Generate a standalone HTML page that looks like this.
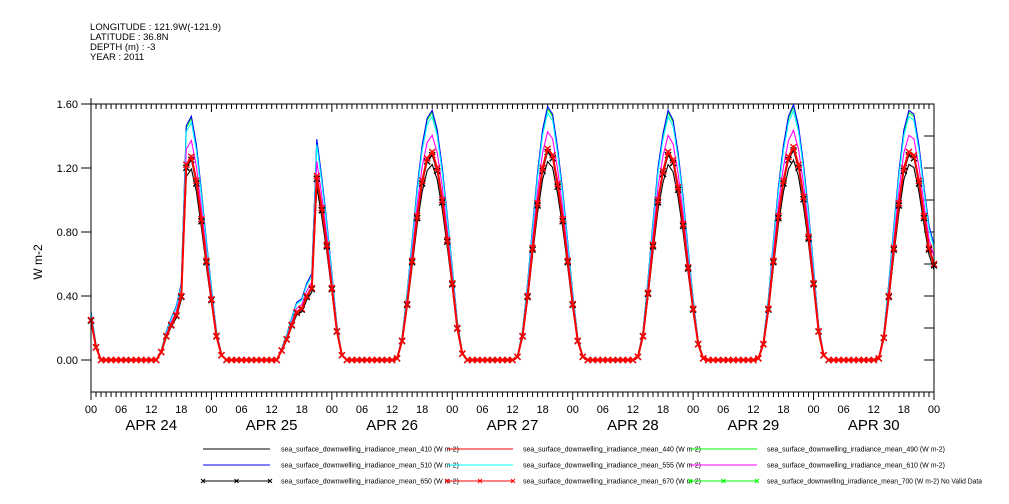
<!DOCTYPE html>
<html><head><meta charset="utf-8">
<style>
html,body{margin:0;padding:0;background:#fff;}
svg{display:block;font-family:"Liberation Sans",sans-serif;}
</style></head>
<body>
<svg id="chart" width="1009" height="504" viewBox="0 0 1009 504">
<g font-size="9.5" fill="#000">
<text x="90" y="30" textLength="131">LONGITUDE : 121.9W(-121.9)</text>
<text x="90" y="40">LATITUDE : 36.8N</text>
<text x="90" y="50">DEPTH (m) : -3</text>
<text x="90" y="60">YEAR : 2011</text>
</g>
<g id="axes"></g>
<g id="series"></g>
<rect x="91" y="104" width="843" height="288" fill="none" stroke="#000" stroke-width="1"/>
<text x="42" y="262" font-size="12" transform="rotate(-90 42 262)" text-anchor="middle">W m-2</text>
<g id="legend"></g>
</svg>
<script>
// ---- data (hourly, Apr 24 00Z ... May 1 00Z) ----
const days = ["APR 24","APR 25","APR 26","APR 27","APR 28","APR 29","APR 30"];
const yTicks = [0.00,0.40,0.80,1.20,1.60];
const yTickLabels = ["0.00","0.40","0.80","1.20","1.60"];
const hourLabels = ["00","06","12","18"];
const irr440 = [
 0.25,0.08,0,0,0,0,0,0,0,0,0,0,0,0,0.05,0.15,0.22,0.28,0.40,1.22,1.27,1.12,0.88,0.62,
 0.38,0.15,0.03,0,0,0,0,0,0,0,0,0,0,0,0.06,0.13,0.22,0.30,0.32,0.40,0.45,1.15,0.95,0.72,
 0.45,0.18,0.03,0,0,0,0,0,0,0,0,0,0,0.01,0.12,0.35,0.62,0.90,1.12,1.26,1.30,1.20,1.00,0.75,
 0.48,0.20,0.04,0,0,0,0,0,0,0,0,0,0,0.02,0.15,0.40,0.70,0.98,1.20,1.32,1.28,1.10,0.88,0.62,
 0.35,0.12,0.02,0,0,0,0,0,0,0,0,0,0,0.02,0.15,0.42,0.72,1.00,1.18,1.30,1.25,1.08,0.85,0.58,
 0.32,0.10,0.01,0,0,0,0,0,0,0,0,0,0,0.01,0.10,0.32,0.62,0.90,1.12,1.27,1.33,1.22,1.02,0.77,
 0.48,0.18,0.03,0,0,0,0,0,0,0,0,0,0,0.01,0.14,0.40,0.70,0.98,1.20,1.30,1.28,1.12,0.90,0.70,
 0.60];
const seriesNames = ["410","440","490","510","555","610","650","670"];
const seriesRatio = [0.94,1.0,1.19,1.2,1.17,1.08,0.985,1.0];
const seriesColors = ["#000","#f00","#0f0","#00f","#0ff","#f0f","#000","#f00"];
const seriesMarkers = [false,false,false,false,false,false,true,true];

const NS="http://www.w3.org/2000/svg";
const X0=91,X1=934,Y0=392,Y1=104,YMIN=-0.2,YMAX=1.6,HOURS=168;
const xs=h=>X0+(X1-X0)*h/HOURS;
const ys=v=>Y0-(Y0-Y1)*(v-YMIN)/(YMAX-YMIN);
function mk(tag,attrs,parent){const e=document.createElementNS(NS,tag);for(const k in attrs)e.setAttribute(k,attrs[k]);parent.appendChild(e);return e;}

const axes=document.getElementById('axes');
for(let h=0;h<=HOURS;h++){
  const x=xs(h); const major=h%24===0; const len=major?8:5;
  const t1=mk('line',{x1:x,x2:x,y1:Y1,y2:Y1+len,stroke:'#000'},axes);
  
  
  const t2=mk('line',{x1:x,x2:x,y1:Y0,y2:Y0+(major?8:5),stroke:'#000'},axes);
  
  
  if(h%6===0){
    const lb=mk('text',{x:x,y:Y0+21,'font-size':11,'text-anchor':'middle'},axes);
    lb.textContent=hourLabels[(h/6)%4];
    
    
  }
}
mk('line',{x1:X0,x2:X0,y1:98,y2:Y0,stroke:'#000'},axes);
days.forEach((d,i)=>{
  const t=mk('text',{x:xs(i*24+12),y:Y0+38,'font-size':15,'text-anchor':'middle'},axes);
  t.textContent=d;
  
  
});
yTicks.forEach((v,i)=>{
  const y=ys(v);
  const a=mk('line',{x1:X0-10,x2:X0,y1:y,y2:y,stroke:'#000'},axes);
  
  
  const t=mk('text',{x:78,y:y+4,'font-size':11,'text-anchor':'end'},axes);
  t.textContent=yTickLabels[i];
  
  
});
for(let v=-0.2;v<=1.61;v+=0.2){
  const y=ys(v);
  const r=mk('line',{x1:X1-10,x2:X1,y1:y,y2:y,stroke:'#000'},axes);
  
  
}

const sg=document.getElementById('series');
function xMark(g,x,y,c){
  const p=mk('path',{d:`M${x-3},${y-3}L${x+3},${y+3}M${x-3},${y+3}L${x+3},${y-3}`,stroke:c,'stroke-width':1.4},g);
  
  
}
seriesNames.forEach((n,si)=>{
  const g=mk('g',{},sg);
  
  
  const pts=irr440.map((v,h)=>xs(h).toFixed(1)+','+ys(v*seriesRatio[si]).toFixed(1)).join(' ');
  const pl=mk('polyline',{points:pts,fill:'none',stroke:seriesColors[si],'stroke-width':si===7?2:1.1},g);
  
  
  if(seriesMarkers[si]) irr440.forEach((v,h)=>xMark(g,xs(h),ys(v*seriesRatio[si]),seriesColors[si]));
});

const lg=document.getElementById('legend');


const legendItems=[
 ["410","#000",false],["440","#f00",false],["490","#0f0",false],
 ["510","#00f",false],["555","#0ff",false],["610","#f0f",false],
 ["650","#000",true],["670","#f00",true],["700","#0f0",true]];
const colX=[[203,270,281],[447,513,523],[690,757,767]];
const rowY=[449,465,481];
legendItems.forEach((it,i)=>{
  const r=Math.floor(i/3),c=i%3; const [lx1,lx2,tx]=colX[c]; const y=rowY[r];
  const g=mk('g',{},lg);
  
  
  mk('line',{x1:lx1,x2:lx2,y1:y,y2:y,stroke:it[1],'stroke-width':1},g);
  if(it[2]) [lx1,(lx1+lx2)/2,lx2].forEach(x=>{mk('path',{d:`M${x-2},${y-2}L${x+2},${y+2}M${x-2},${y+2}L${x+2},${y-2}`,stroke:it[1]},g);});
  const t=mk('text',{x:tx,y:y+2.5,'font-size':7,textLength:it[0]==="700"?178+37:178,lengthAdjust:'spacingAndGlyphs'},g);
  t.textContent='sea_surface_downwelling_irradiance_mean_'+it[0]+' (W m-2)'+(it[0]==="700"?' No Valid Data':'');
});
</script>
</body></html>
